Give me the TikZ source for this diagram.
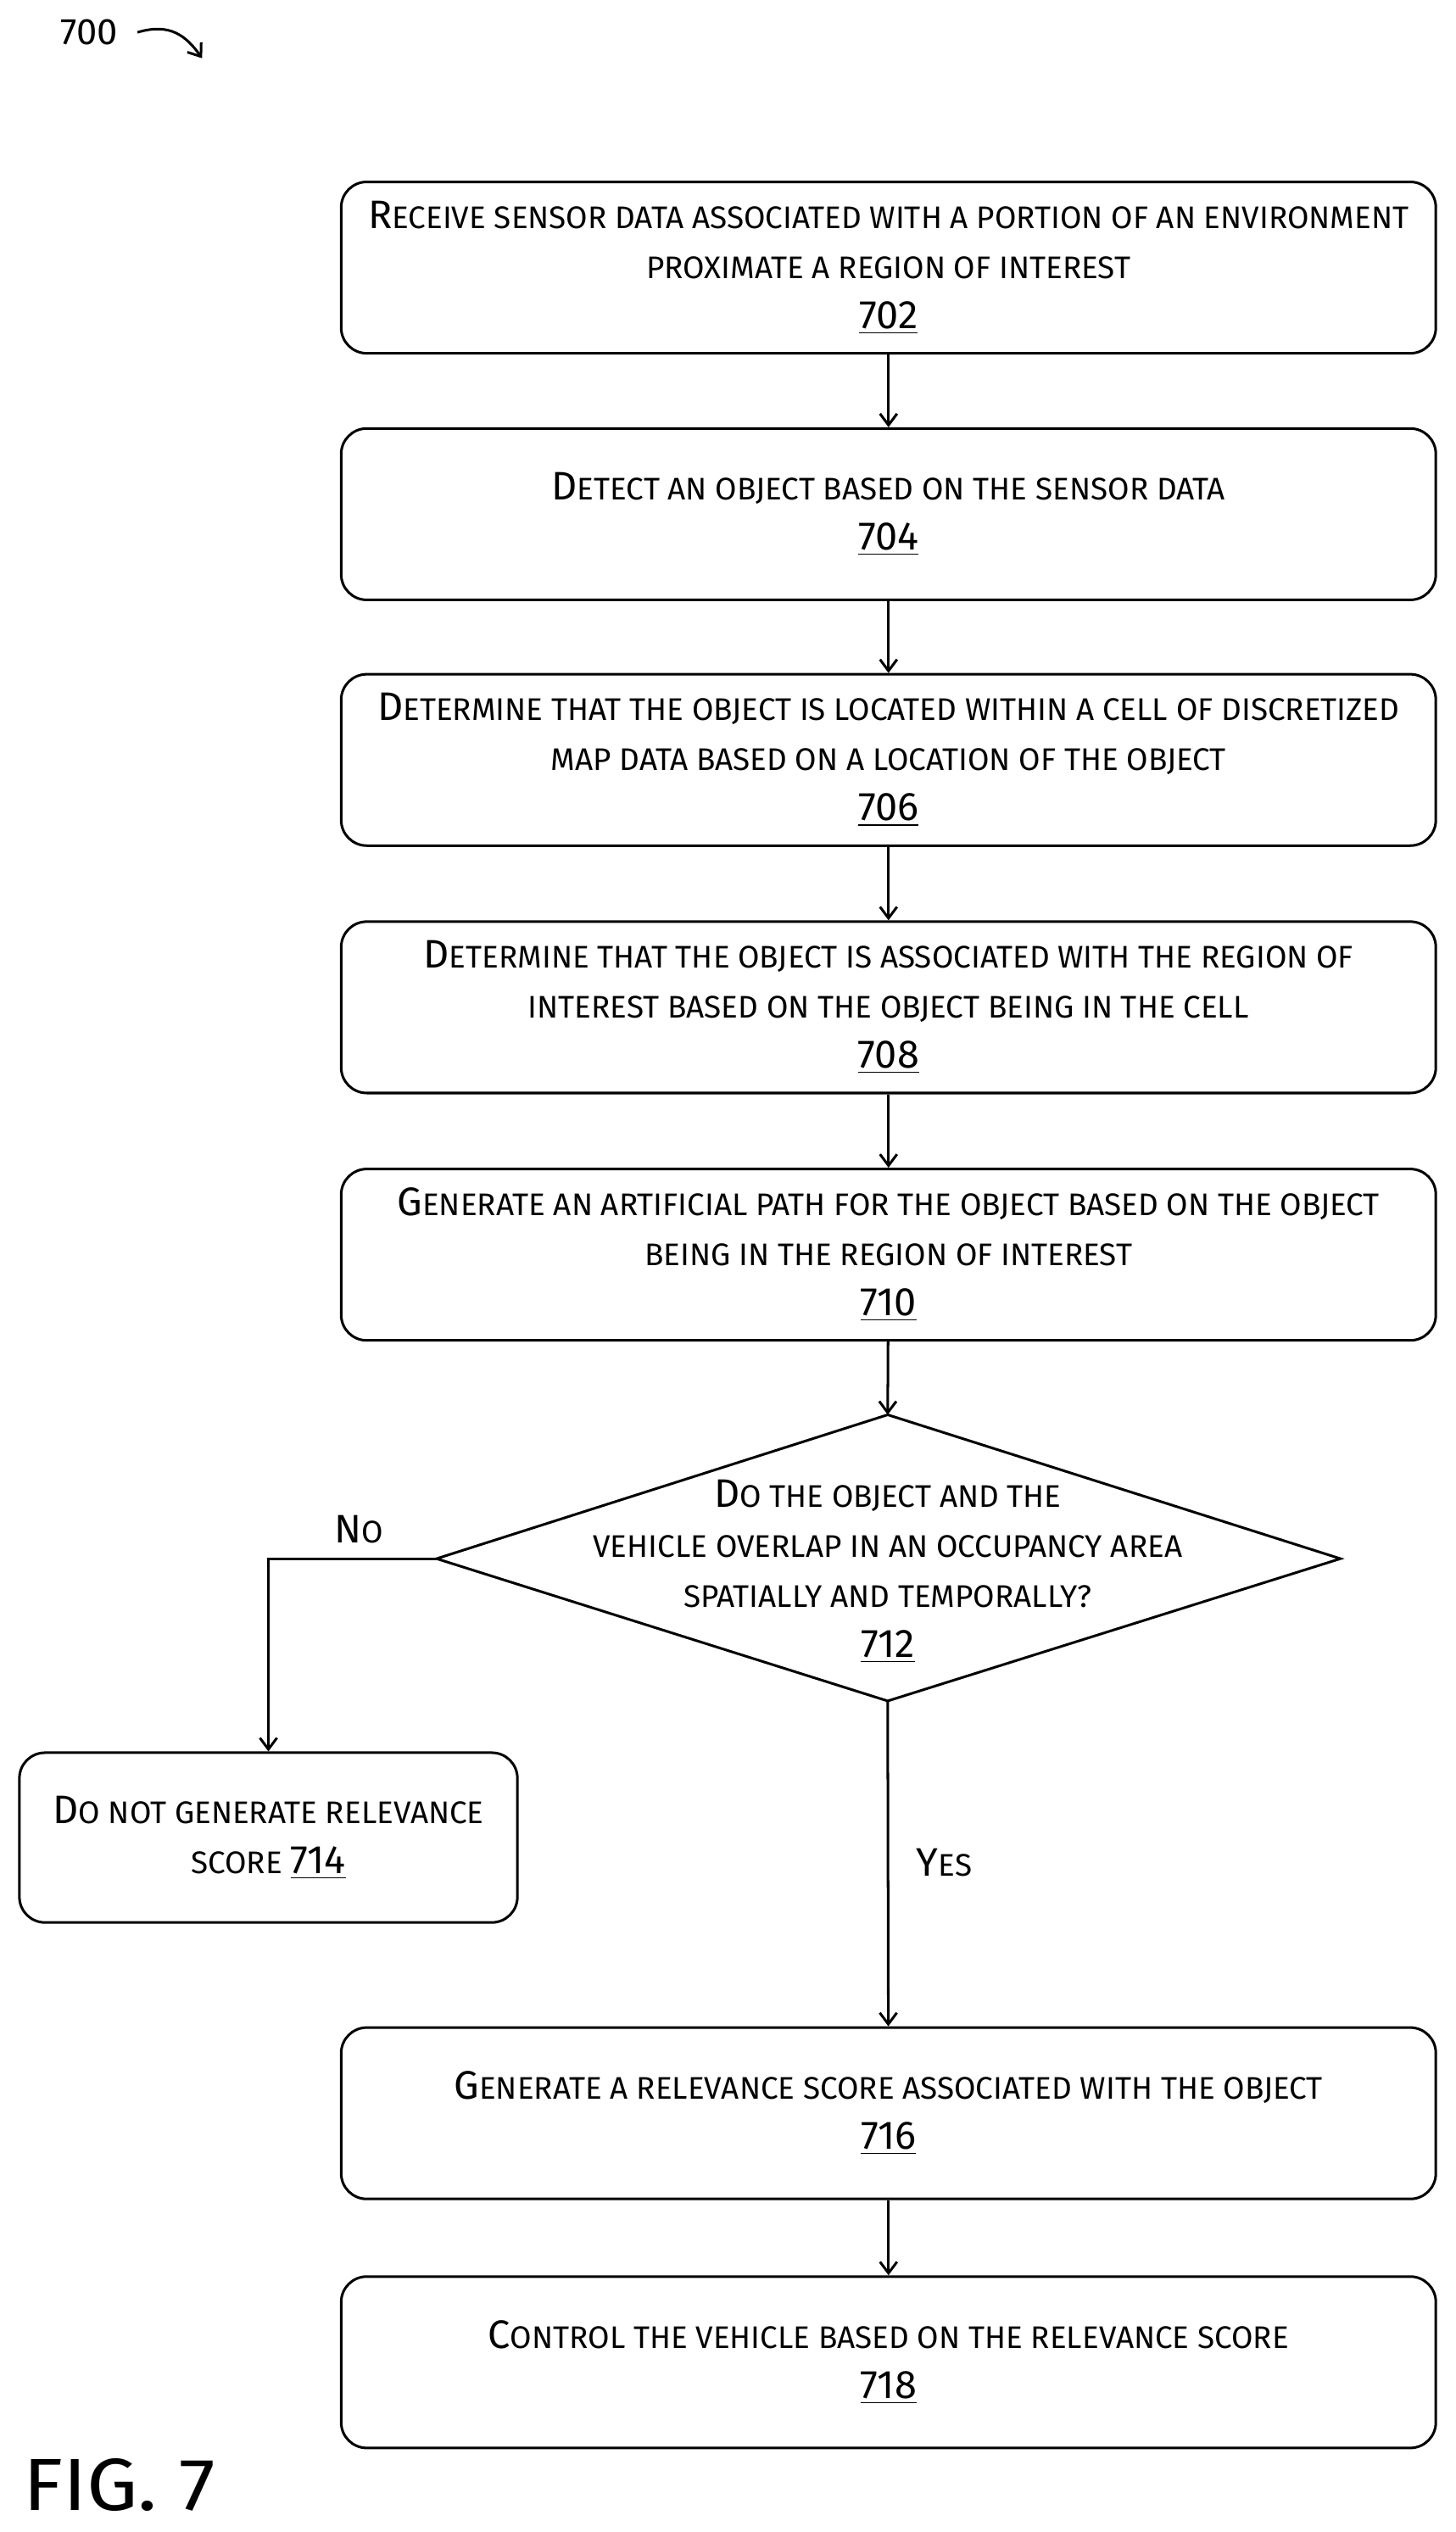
\documentclass[tikz,border=0pt]{standalone}
\usepackage{fontspec}
\setmainfont{Fira Sans}
\usetikzlibrary{arrows.meta}
\newcommand\Lg[1]{{\fontsize{14}{17.6}\selectfont #1}}
\newcommand\Nm[1]{\Lg{\underline{#1}}}
\begin{document}
\begin{tikzpicture}[x=0.02cm,y=-0.02cm,
  box/.style={draw,line width=0.9pt,rounded corners=9pt,minimum width=677*0.02cm,minimum height=106*0.02cm,align=center,inner sep=0pt,font=\fontsize{11}{17.6}\selectfont},
  arr/.style={-{Straight Barb[length=4pt,width=6pt]},line width=0.9pt},
  lab/.style={font=\fontsize{11}{17.6}\selectfont}]
\useasboundingbox (0,0) rectangle (900,1566);
\node[box] (b702) at (549.5,165.5) {\Lg{R}ECEIVE SENSOR DATA ASSOCIATED WITH A PORTION OF AN ENVIRONMENT\\PROXIMATE A REGION OF INTEREST\\\Nm{702}};
\node[box] (b704) at (549.5,318) {\Lg{D}ETECT AN OBJECT BASED ON THE SENSOR DATA\\\Nm{704}};
\node[box] (b706) at (549.5,470) {\Lg{D}ETERMINE THAT THE OBJECT IS LOCATED WITHIN A CELL OF DISCRETIZED\\MAP DATA BASED ON A LOCATION OF THE OBJECT\\\Nm{706}};
\node[box] (b708) at (549.5,623) {\Lg{D}ETERMINE THAT THE OBJECT IS ASSOCIATED WITH THE REGION OF\\INTEREST BASED ON THE OBJECT BEING IN THE CELL\\\Nm{708}};
\node[box] (b710) at (549.5,776) {\Lg{G}ENERATE AN ARTIFICIAL PATH FOR THE OBJECT BASED ON THE OBJECT\\BEING IN THE REGION OF INTEREST\\\Nm{710}};
\draw[line width=0.9pt] (549,875) -- (829,964) -- (549,1052) -- (270,964) -- cycle;
\coordinate (dt) at (549,875); \coordinate (db) at (549,1052); \coordinate (dl) at (270,964);
\node[lab,align=center] (d712) at (549,972) {\Lg{D}O THE OBJECT AND THE\\VEHICLE OVERLAP IN AN OCCUPANCY AREA\\SPATIALLY AND TEMPORALLY?\\\Nm{712}};
\node[box,minimum width=308*0.02cm,minimum height=105*0.02cm] (b714) at (166,1136.5) {\Lg{D}O NOT GENERATE RELEVANCE\\SCORE \Nm{714}};
\node[box] (b716) at (549.5,1307) {\Lg{G}ENERATE A RELEVANCE SCORE ASSOCIATED WITH THE OBJECT\\\Nm{716}};
\node[box] (b718) at (549.5,1461) {\Lg{C}ONTROL THE VEHICLE BASED ON THE RELEVANCE SCORE\\\Nm{718}};
\draw[arr] (b702) -- (b704);
\draw[arr] (b704) -- (b706);
\draw[arr] (b706) -- (b708);
\draw[arr] (b708) -- (b710);
\draw[arr] (b710) -- (dt);
\draw[arr] (db) -- (b716);
\draw[arr] (b716) -- (b718);
\coordinate (nc) at (166,964);
\draw[arr] (dl) -- (nc) -- (b714);
\node[lab] (no) at (222,946) {\Lg{N}O};
\node[lab] (yes) at (584,1152) {\Lg{Y}ES};
\node[font=\fontsize{13}{15}\selectfont] (t700) at (55,20) {700};
\coordinate (a700) at (125,36);
\draw[arr] (85,20) .. controls (105,14) and (115,22) .. (a700);
\node[font=\fontsize{26}{30}\selectfont\addfontfeatures{FakeStretch=1.1}, anchor=west] (fig) at (8,1537) {FIG. 7};
\end{tikzpicture}
\end{document}
